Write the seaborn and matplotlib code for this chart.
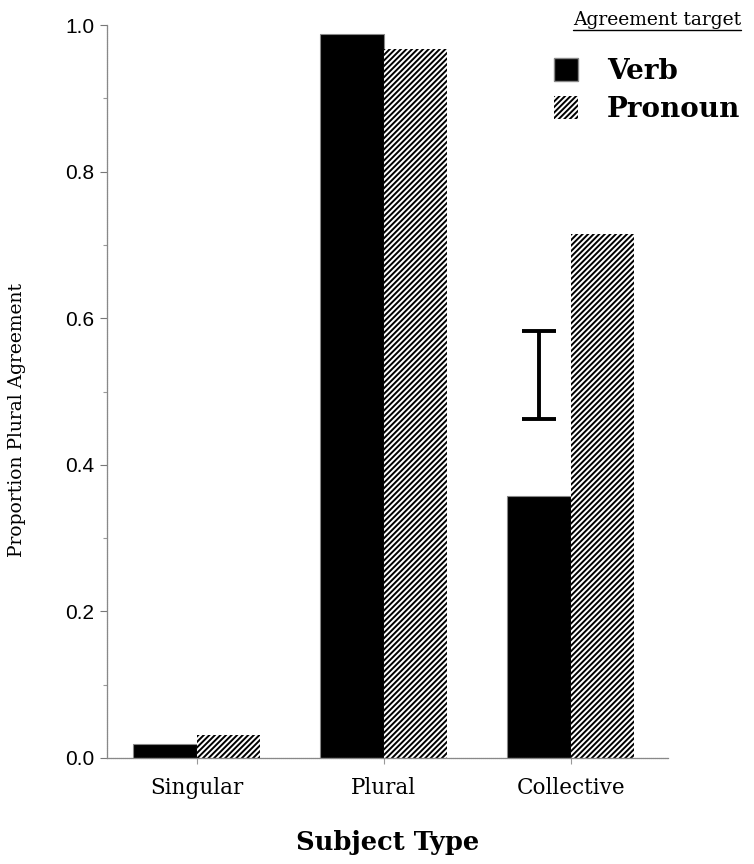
import matplotlib
matplotlib.use("Agg")
import matplotlib.pyplot as plt
import seaborn as sns
import pandas as pd
import numpy as np
from matplotlib.ticker import MultipleLocator
from matplotlib.patches import Patch
from matplotlib.lines import Line2D

categories = ["Singular", "Plural", "Collective"]
targets = ["Verb", "Pronoun"]
verb_values = [0.019, 0.988, 0.357]
pronoun_values = [0.031, 0.967, 0.715]
err_center = 0.522
err_half = 0.060
yticks = [0.0, 0.2, 0.4, 0.6, 0.8, 1.0]

df = pd.DataFrame({
    "Subject Type": categories * 2,
    "target": ["Verb"] * 3 + ["Pronoun"] * 3,
    "value": verb_values + pronoun_values,
})

sns.set_theme(style="white")
plt.rcParams['font.family'] = ['DejaVu Serif']
plt.rcParams['hatch.linewidth'] = 1.4
plt.rcParams['text.color'] = 'black'
plt.rcParams['axes.labelcolor'] = 'black'

fig = plt.figure(figsize=(7.54, 8.64), dpi=100)
ax = fig.add_axes([0.142, 0.1227, 0.744, 0.8483])

sns.barplot(data=df, x="Subject Type", y="value", hue="target",
            order=categories, hue_order=targets,
            palette={"Verb": "black", "Pronoun": "white"},
            width=0.68, gap=0, errorbar=None, ax=ax, legend=False,
            edgecolor="#888888", linewidth=0.8)

for p in ax.patches:
    if p.get_facecolor()[0] > 0.5:
        p.set_hatch("//////")
        p.set_edgecolor("black")
        p.set_linewidth(0)

# error bar above collective verb bar
verb_bars = [p for p in ax.patches if p.get_facecolor()[0] < 0.5 and p.get_height() > 0]
coll_bar = sorted(verb_bars, key=lambda p: p.get_x())[-1]
xc = coll_bar.get_x() + coll_bar.get_width() / 2
ax.errorbar([xc], [err_center], yerr=[err_half], fmt="none", ecolor="black",
            elinewidth=2.8, capsize=12, capthick=2.8)

ax.set_xlim(-0.48, 2.52)
ax.set_ylim(0, 1.0)
ax.set_yticks(yticks)
ax.set_yticklabels([f"{t:.1f}" for t in yticks], family="Liberation Sans", fontsize=15)
ax.yaxis.set_minor_locator(MultipleLocator(0.1))
ax.tick_params(axis="y", which="major", left=True, length=5, width=0.8, color="#777777",
               labelcolor="black", pad=4)
ax.tick_params(axis="y", which="minor", left=True, length=3, width=0.8, color="#999999")
ax.tick_params(axis="x", bottom=True, length=4, width=0.8, color="#999999",
               labelcolor="black", pad=10)
for lab in ax.get_xticklabels():
    lab.set_fontsize(15.5)

for s in ["top", "right"]:
    ax.spines[s].set_visible(False)
for s in ["left", "bottom"]:
    ax.spines[s].set_color("#888888")
    ax.spines[s].set_linewidth(0.9)
    ax.spines[s].set_linestyle((0, (1, 0.6)))

ax.set_xlabel("Subject Type", fontsize=18.5, fontweight="bold", labelpad=22)
ax.set_ylabel("Proportion Plural Agreement", fontsize=13.5)
ax.yaxis.set_label_coords(-0.145, 0.461)

handles = [Patch(facecolor="black", edgecolor="#888888", label="Verb"),
           Patch(facecolor="white", edgecolor="black", hatch="//////", linewidth=0, label="Pronoun")]
leg = fig.legend(handles=handles, labels=targets, loc="upper right",
                 bbox_to_anchor=(0.982, 0.933), frameon=False, borderpad=0, borderaxespad=0,
                 prop={"family": "DejaVu Serif", "weight": "bold", "size": 20},
                 handlelength=0.87, handleheight=0.87, handletextpad=1.05, labelspacing=0.4)
fig.text(0.983, 1 - 25 / 864, "Agreement target", ha="right", va="baseline", fontsize=13.5)
fig.canvas.draw()
t = fig.texts[-1]
bb = t.get_window_extent().transformed(fig.transFigure.inverted())
uy = 1 - 30 / 864
fig.add_artist(Line2D([bb.x0, bb.x1], [uy, uy], color="black",
                      linewidth=1.0, transform=fig.transFigure))

fig.savefig("out.png", dpi=100)
